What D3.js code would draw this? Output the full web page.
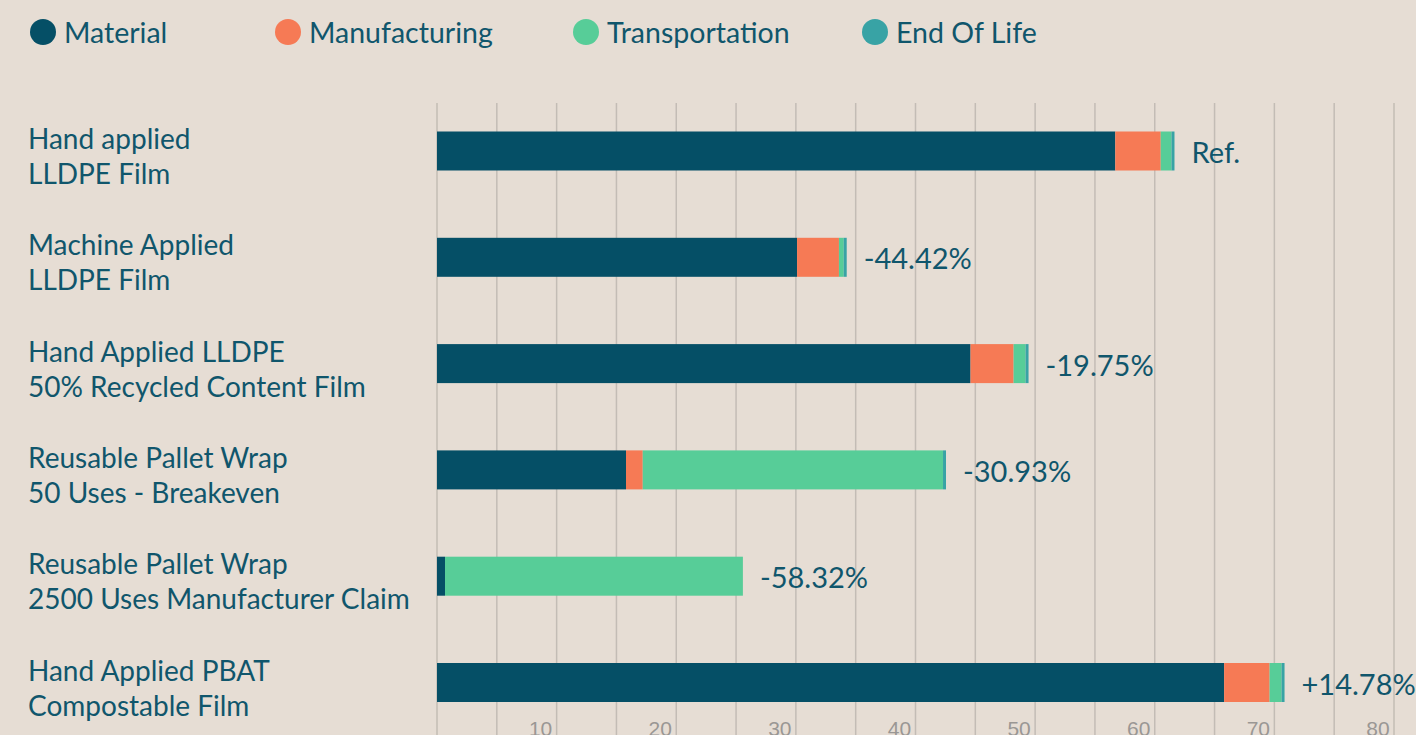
<!DOCTYPE html>
<html>
<head>
<meta charset="utf-8">
<script src="https://cdn.jsdelivr.net/npm/d3@7"></script>
<style>
  html, body { margin: 0; padding: 0; background: #e6ddd4; }
  svg { display: block; }
</style>
</head>
<body>
<svg id="chart"></svg>
<script>
const categories = [
    ["Hand applied", "LLDPE Film"],
    ["Machine Applied", "LLDPE Film"],
    ["Hand Applied LLDPE", "50% Recycled Content Film"],
    ["Reusable Pallet Wrap", "50 Uses - Breakeven"],
    ["Reusable Pallet Wrap", "2500 Uses Manufacturer Claim"],
    ["Hand Applied PBAT", "Compostable Film"]
];
const seriesNames = ["Material", "Manufacturing", "Transportation", "End Of Life"];
const material       = [56.7, 30.1, 44.6, 15.8, 0.67, 65.8];
const manufacturing  = [3.8, 3.5, 3.6, 1.4, 0, 3.8];
const transportation = [0.9, 0.4, 1.0, 25.1, 24.9, 1.0];
const endOfLife      = [0.25, 0.25, 0.25, 0.25, 0, 0.25];
const changeLabels = ["Ref.", "-44.42%", "-19.75%", "-30.93%", "-58.32%", "+14.78%"];
const tickValues = [10, 20, 30, 40, 50, 60, 70, 80];

const colors = ["#054f66", "#f67a55", "#57cd98", "#38a3a5"];
const textColor = "#10566c";

const W = 1416, H = 735;
const svg = d3.select("#chart").attr("width", W).attr("height", H);

// table for stacking
const rows = categories.map((c, i) => ({
    idx: i,
    Material: material[i],
    Manufacturing: manufacturing[i],
    Transportation: transportation[i],
    "End Of Life": endOfLife[i]
}));
const stacked = d3.stack().keys(seriesNames)(rows);

const x = d3.scaleLinear().domain([0, 80]).range([437, 1394]);
const y = d3.scalePoint().domain(d3.range(categories.length)).range([151, 682.5]);
const barH = 39;

// grid lines every 5
svg.append("g")
    .selectAll("line")
    .data(d3.range(0, 81, 5))
    .join("line")
    .attr("x1", d => x(d)).attr("x2", d => x(d))
    .attr("y1", 103).attr("y2", H)
    .attr("stroke", "#c3bcb5")
    .attr("stroke-width", 1.5);

// tick labels (cut by the bottom edge, as in the original)
svg.append("g")
    .selectAll("text")
    .data(tickValues)
    .join("text")
    .attr("x", d => x(d) - 16)
    .attr("y", 736)
    .attr("text-anchor", "middle")
    .attr("font-family", "'Liberation Sans', Arial, sans-serif")
    .attr("font-size", 21)
    .attr("fill", "#9a9794")
    .text(d => d);

// bars
svg.append("g")
    .selectAll("g")
    .data(stacked)
    .join("g")
    .attr("fill", (d, i) => colors[i])
    .selectAll("rect")
    .data(d => d)
    .join("rect")
    .attr("x", d => x(d[0]))
    .attr("width", d => Math.max(0, x(d[1]) - x(d[0])))
    .attr("y", d => y(d.data.idx) - barH / 2)
    .attr("height", barH);

// change labels
svg.append("g")
    .selectAll("text")
    .data(rows)
    .join("text")
    .attr("x", d => x(d.Material + d.Manufacturing + d.Transportation + d["End Of Life"]) + 17)
    .attr("y", d => y(d.idx) + 12)
    .attr("font-family", "Lato, sans-serif")
    .attr("font-size", 29)
    .attr("fill", textColor)
    .text(d => changeLabels[d.idx]);

// category labels
const catG = svg.append("g")
    .attr("font-family", "Lato, sans-serif")
    .attr("font-size", 28)
    .attr("fill", textColor);
catG.selectAll("text")
    .data(categories)
    .join("text")
    .attr("x", 28)
    .attr("y", (d, i) => y(i) - 2)
    .selectAll("tspan")
    .data(d => d)
    .join("tspan")
    .attr("x", 28)
    .attr("dy", (d, j) => j === 0 ? 0 : 35)
    .text(d => d);

// legend
const legendX = [43, 288, 586, 875];
const legend = svg.append("g")
    .selectAll("g")
    .data(seriesNames)
    .join("g")
    .attr("transform", (d, i) => `translate(${legendX[i]},32)`);
legend.append("circle")
    .attr("r", 13)
    .attr("fill", (d, i) => colors[i]);
legend.append("text")
    .attr("x", 21)
    .attr("y", 11)
    .attr("font-family", "Lato, sans-serif")
    .attr("font-size", 28.5)
    .attr("fill", textColor)
    .text(d => d);
</script>
</body>
</html>
